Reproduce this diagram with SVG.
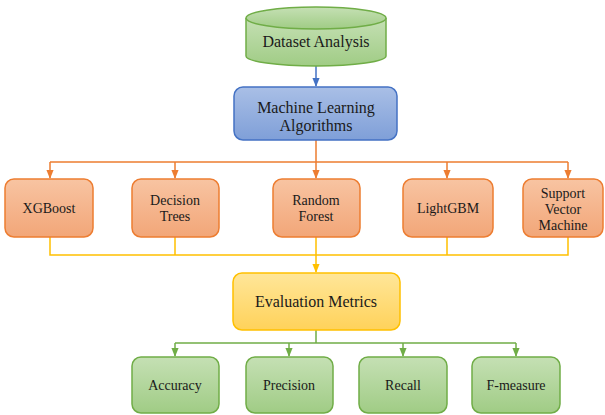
<svg xmlns="http://www.w3.org/2000/svg" width="605" height="415" viewBox="0 0 605 415">
<defs>
<linearGradient id="gGreen" x1="0" y1="0" x2="0" y2="1"><stop offset="0" stop-color="#c5e0b4"/><stop offset="1" stop-color="#a0cc85"/></linearGradient>
<linearGradient id="gBlue" x1="0" y1="0" x2="0" y2="1"><stop offset="0" stop-color="#a9bfe6"/><stop offset="1" stop-color="#7f9fd8"/></linearGradient>
<linearGradient id="gOrange" x1="0" y1="0" x2="0" y2="1"><stop offset="0" stop-color="#f8c4a2"/><stop offset="1" stop-color="#f2a678"/></linearGradient>
<linearGradient id="gYellow" x1="0" y1="0" x2="0" y2="1"><stop offset="0" stop-color="#ffe699"/><stop offset="1" stop-color="#ffd25a"/></linearGradient>
<marker id="aBlue" viewBox="0 0 10 10" refX="9" refY="5" markerWidth="6" markerHeight="6" orient="auto"><path d="M0,1 L10,5 L0,9 z" fill="#4472c4"/></marker>
<marker id="aOrange" viewBox="0 0 10 10" refX="9" refY="5" markerWidth="6" markerHeight="6" orient="auto"><path d="M0,1 L10,5 L0,9 z" fill="#ed7d31"/></marker>
<marker id="aYellow" viewBox="0 0 10 10" refX="9" refY="5" markerWidth="6" markerHeight="6" orient="auto"><path d="M0,1 L10,5 L0,9 z" fill="#ffc000"/></marker>
<marker id="aGreen" viewBox="0 0 10 10" refX="9" refY="5" markerWidth="6" markerHeight="6" orient="auto"><path d="M0,1 L10,5 L0,9 z" fill="#70ad47"/></marker>
</defs>
<style>
text{font-family:"Liberation Serif","Times New Roman",serif !important;fill:#1a1a1a;text-anchor:middle}
.big{font-size:16px}
.sm{font-size:14px}
.green{fill:url(#gGreen);stroke:#70ad47;stroke-width:1.5}
.blue{fill:url(#gBlue);stroke:#4472c4;stroke-width:1.5}
.orange{fill:url(#gOrange);stroke:#ed7d31;stroke-width:1.5}
.yellow{fill:url(#gYellow);stroke:#ffc000;stroke-width:1.5}
.c{fill:none;stroke-width:1.5}
</style>
<rect width="605" height="415" fill="#ffffff"/>
<g id="connectors">
<path class="c" stroke="#4472c4" d="M316,66 V86" marker-end="url(#aBlue)"/>
<path class="c" stroke="#ed7d31" d="M316,140 V162 M50,162 H568"/>
<path class="c" stroke="#ed7d31" d="M50,162 V178" marker-end="url(#aOrange)"/>
<path class="c" stroke="#ed7d31" d="M175,162 V178" marker-end="url(#aOrange)"/>
<path class="c" stroke="#ed7d31" d="M316,162 V178" marker-end="url(#aOrange)"/>
<path class="c" stroke="#ed7d31" d="M447,162 V178" marker-end="url(#aOrange)"/>
<path class="c" stroke="#ed7d31" d="M568,162 V178" marker-end="url(#aOrange)"/>
<path class="c" stroke="#ffc000" d="M50,237 V255 H568 V237 M175,237 V255 M447,237 V255 M316,237 V255"/>
<path class="c" stroke="#ffc000" d="M316,255 V272" marker-end="url(#aYellow)"/>
<path class="c" stroke="#70ad47" d="M316,330 V343 M175,343 H516"/>
<path class="c" stroke="#70ad47" d="M175,343 V356" marker-end="url(#aGreen)"/>
<path class="c" stroke="#70ad47" d="M289,343 V356" marker-end="url(#aGreen)"/>
<path class="c" stroke="#70ad47" d="M403,343 V356" marker-end="url(#aGreen)"/>
<path class="c" stroke="#70ad47" d="M516,343 V356" marker-end="url(#aGreen)"/>
</g>
<g id="dataset">
<path class="green" d="M246,18 V56 A70,10 0 0 0 386,56 V18"/>
<ellipse class="green" cx="316" cy="18" rx="70" ry="11"/>
<text class="big" style="font-family:'Liberation Serif',serif" x="316" y="47">Dataset Analysis</text>
</g>
<g id="ml">
<rect class="blue" x="234" y="87" width="163" height="53" rx="9"/>
<text class="big" style="font-family:'Liberation Serif',serif" x="316" y="113">Machine Learning</text>
<text class="big" style="font-family:'Liberation Serif',serif" x="316" y="131">Algorithms</text>
</g>
<g id="xgboost">
<rect class="orange" x="5" y="179" width="88" height="58" rx="9"/>
<text class="sm" style="font-family:'Liberation Serif',serif" x="49" y="213">XGBoost</text>
</g>
<g id="dt">
<rect class="orange" x="132" y="179" width="87" height="58" rx="9"/>
<text class="sm" style="font-family:'Liberation Serif',serif" x="175" y="205">Decision</text>
<text class="sm" style="font-family:'Liberation Serif',serif" x="175" y="221">Trees</text>
</g>
<g id="rf">
<rect class="orange" x="273" y="179" width="87" height="58" rx="9"/>
<text class="sm" style="font-family:'Liberation Serif',serif" x="316" y="205">Random</text>
<text class="sm" style="font-family:'Liberation Serif',serif" x="316" y="221">Forest</text>
</g>
<g id="lgbm">
<rect class="orange" x="403" y="179" width="90" height="58" rx="9"/>
<text class="sm" style="font-family:'Liberation Serif',serif" x="448" y="213">LightGBM</text>
</g>
<g id="svm">
<rect class="orange" x="523" y="179" width="80" height="58" rx="9"/>
<text class="sm" style="font-family:'Liberation Serif',serif" x="563" y="198">Support</text>
<text class="sm" style="font-family:'Liberation Serif',serif" x="563" y="214">Vector</text>
<text class="sm" style="font-family:'Liberation Serif',serif" x="563" y="230">Machine</text>
</g>
<g id="eval">
<rect class="yellow" x="233" y="273" width="167" height="57" rx="9"/>
<text class="big" style="font-family:'Liberation Serif',serif" x="316" y="307">Evaluation Metrics</text>
</g>
<g id="accuracy">
<rect class="green" x="132" y="357" width="87" height="56" rx="9"/>
<text class="sm" style="font-family:'Liberation Serif',serif" x="175" y="390">Accuracy</text>
</g>
<g id="precision">
<rect class="green" x="246" y="357" width="87" height="56" rx="9"/>
<text class="sm" style="font-family:'Liberation Serif',serif" x="289" y="390">Precision</text>
</g>
<g id="recall">
<rect class="green" x="359" y="357" width="88" height="56" rx="9"/>
<text class="sm" style="font-family:'Liberation Serif',serif" x="403" y="390">Recall</text>
</g>
<g id="fmeasure">
<rect class="green" x="472" y="357" width="88" height="56" rx="9"/>
<text class="sm" style="font-family:'Liberation Serif',serif" x="516" y="390">F-measure</text>
</g>
</svg>
